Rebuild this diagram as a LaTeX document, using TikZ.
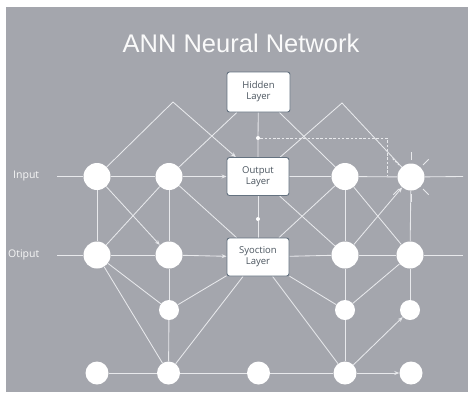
\documentclass[tikz,border=0pt]{standalone}
\usepackage{fontspec}
\setmainfont{Liberation Sans}
\newfontfamily\labfont{Open Sans}
\usetikzlibrary{arrows.meta,calc}
\definecolor{bggray}{RGB}{164,166,173}
\definecolor{linecol}{RGB}{232,233,236}
\definecolor{boxborder}{RGB}{100,114,128}
\definecolor{boxtext}{RGB}{75,85,95}
\pgfdeclarelayer{bglayer}
\pgfdeclarelayer{edgelayer}
\pgfsetlayers{bglayer,edgelayer,main}
\tikzset{
  big/.style={circle, fill=white, minimum size=27pt, inner sep=0pt},
  mid/.style={circle, fill=white, minimum size=23pt, inner sep=0pt},
  small/.style={circle, fill=white, minimum size=20pt, inner sep=0pt},
  dotnode/.style={circle, fill=white, minimum size=4pt, inner sep=0pt},
  layerbox/.style={draw=boxborder, fill=white, rounded corners=2.5pt, line width=0.9pt,
    minimum width=62pt, minimum height=38pt, align=center, inner sep=1pt,
    font=\labfont\fontsize{9.5}{11}\selectfont, text=boxtext},
  sidelabel/.style={font=\labfont\fontsize{10.5}{12}\selectfont, text=white!94!gray, anchor=west, inner sep=0pt},
  conn/.style={draw=linecol, line width=0.85pt},
  arr/.style={conn, -{Stealth[length=5pt,width=4pt]}},
  ray/.style={draw=linecol, line width=0.8pt},
}
\begin{document}
\begin{tikzpicture}[x=1pt,y=-1pt]
\begin{pgfonlayer}{bglayer}
\fill[white] (0,0) rectangle (468,392);
\fill[bggray] (6,7) rectangle (468,392);
\end{pgfonlayer}
\useasboundingbox (0,0) rectangle (468,392);

\node[font=\fontsize{25.5}{28}\selectfont, text=white!96!gray] (title) at (241,43) {ANN Neural Network};

\node[layerbox, minimum height=40pt, minimum width=63pt] (H) at (258.5,92) {Hidden\\Layer};
\node[layerbox] (O) at (258,176.5) {Output\\Layer};
\node[layerbox] (S) at (258,257) {Syoction\\Layer};

\node[sidelabel] (inlab) at (13,176) {Input};
\node[sidelabel] (otlab) at (8,255) {Otiput};

% row 1
\node[big] (in1) at (97,176.5) {};
\node[big] (h1) at (169,176.5) {};
\node[big] (r1a) at (345,176.5) {};
\node[big] (r1b) at (411,177) {};
% row 2
\node[big] (a2) at (97,255) {};
\node[big] (b2) at (169,255) {};
\node[big] (c2) at (345,255) {};
\node[big] (d2) at (410,255) {};
% row 3
\node[small] (b3) at (169,310) {};
\node[small] (c3) at (345,310) {};
\node[small] (d3) at (410,310) {};
% row 4
\node[mid] (a4) at (97,373) {};
\node[mid] (b4) at (168.5,373) {};
\node[mid] (m4) at (258.5,373) {};
\node[mid] (c4) at (345,373) {};
\node[mid] (d4) at (411,373) {};

\node[dotnode] (dot1) at (258,138) {};
\node[dotnode] (dot2) at (258,219) {};

\coordinate (sIn) at (57,176.5);
\coordinate (eIn) at (463,176.5);
\coordinate (sOt) at (57,255);
\coordinate (eOt) at (463,255);
\coordinate (pk1) at (173,102);
\coordinate (pk2) at (342,103);
\coordinate (dc) at (387,138);
\coordinate (de) at (387,176);

\begin{pgfonlayer}{edgelayer}
% input row
\draw[conn] (sIn) -- (in1);
\draw[conn] (in1) -- (h1);
\draw[arr] (h1) -- (O);
\draw[conn] (O) -- (r1a);
\draw[conn] (r1a) -- (r1b);
\draw[conn] (r1b) -- (eIn);
% output row
\draw[conn] (sOt) -- (a2);
\draw[conn] (a2) -- (b2);
\draw[arr] (b2) -- (S);
\draw[conn] (S) -- (c2);
\draw[conn] (c2) -- (d2);
\draw[conn] (d2) -- (eOt);
% verticals
\draw[conn] (in1) -- (a2);
\draw[conn] (h1) -- (b2);
\draw[conn] (r1a) -- (c2);
\draw[conn] (r1b) -- (d2);
\draw[conn] (H) -- (dot1) -- (O);
\draw[conn] (O) -- (dot2) -- (S);
% top peaks
\draw[conn] (in1) -- (pk1);
\draw[arr] (pk1) -- (O);
\draw[conn] (H) -- (h1);
\draw[conn] (H) -- (r1a);
\draw[conn] (O) -- (pk2) -- (r1b);
% dashed
\draw[draw=linecol, line width=0.8pt, dash pattern=on 2.5pt off 1.8pt] (dot1) -- (dc) -- (de);
% cross links row1-row2
\draw[arr] (in1) -- (b2);
\draw[conn] (h1) -- (a2);
\draw[conn] (h1) -- (S);
\draw[conn] (O) -- (c2);
\draw[conn] (S) -- (r1a);
\draw[conn] (r1a) -- (d2);
\draw[arr] (c2) -- (r1b);
% lower part
\draw[conn] (a2) -- (b3);
\draw[conn] (a2) -- (b4);
\draw[conn] (b2) -- (b3);
\draw[conn] (b3) -- (b4);
\draw[conn] (S) -- (b3);
\draw[conn] (S) -- (b4);
\draw[conn] (S) -- (c4);
\draw[conn] (S) -- (c3);
\draw[conn] (c2) -- (c3);
\draw[conn] (d2) -- (c3);
\draw[conn] (c3) -- (c4);
\draw[conn] (d2) -- (d3);
\draw[arr] (c4) -- (d3);
% bottom row
\draw[conn] (a4) -- (b4);
\draw[conn] (b4) -- (m4);
\draw[conn] (m4) -- (c4);
\draw[arr] (c4) -- (d4);
% rays (y axis points down, so use -angle for screen directions)
\foreach \a in {-45,-90,-225,-270,-315}
  \draw[ray] ($(r1b)+(\a:17)$) -- ($(r1b)+(\a:25)$);
\draw[ray, dash pattern=on 2pt off 1.5pt] ($(r1b)+(-135:17)$) -- ($(r1b)+(-135:27)$);
\end{pgfonlayer}
\end{tikzpicture}
\end{document}
